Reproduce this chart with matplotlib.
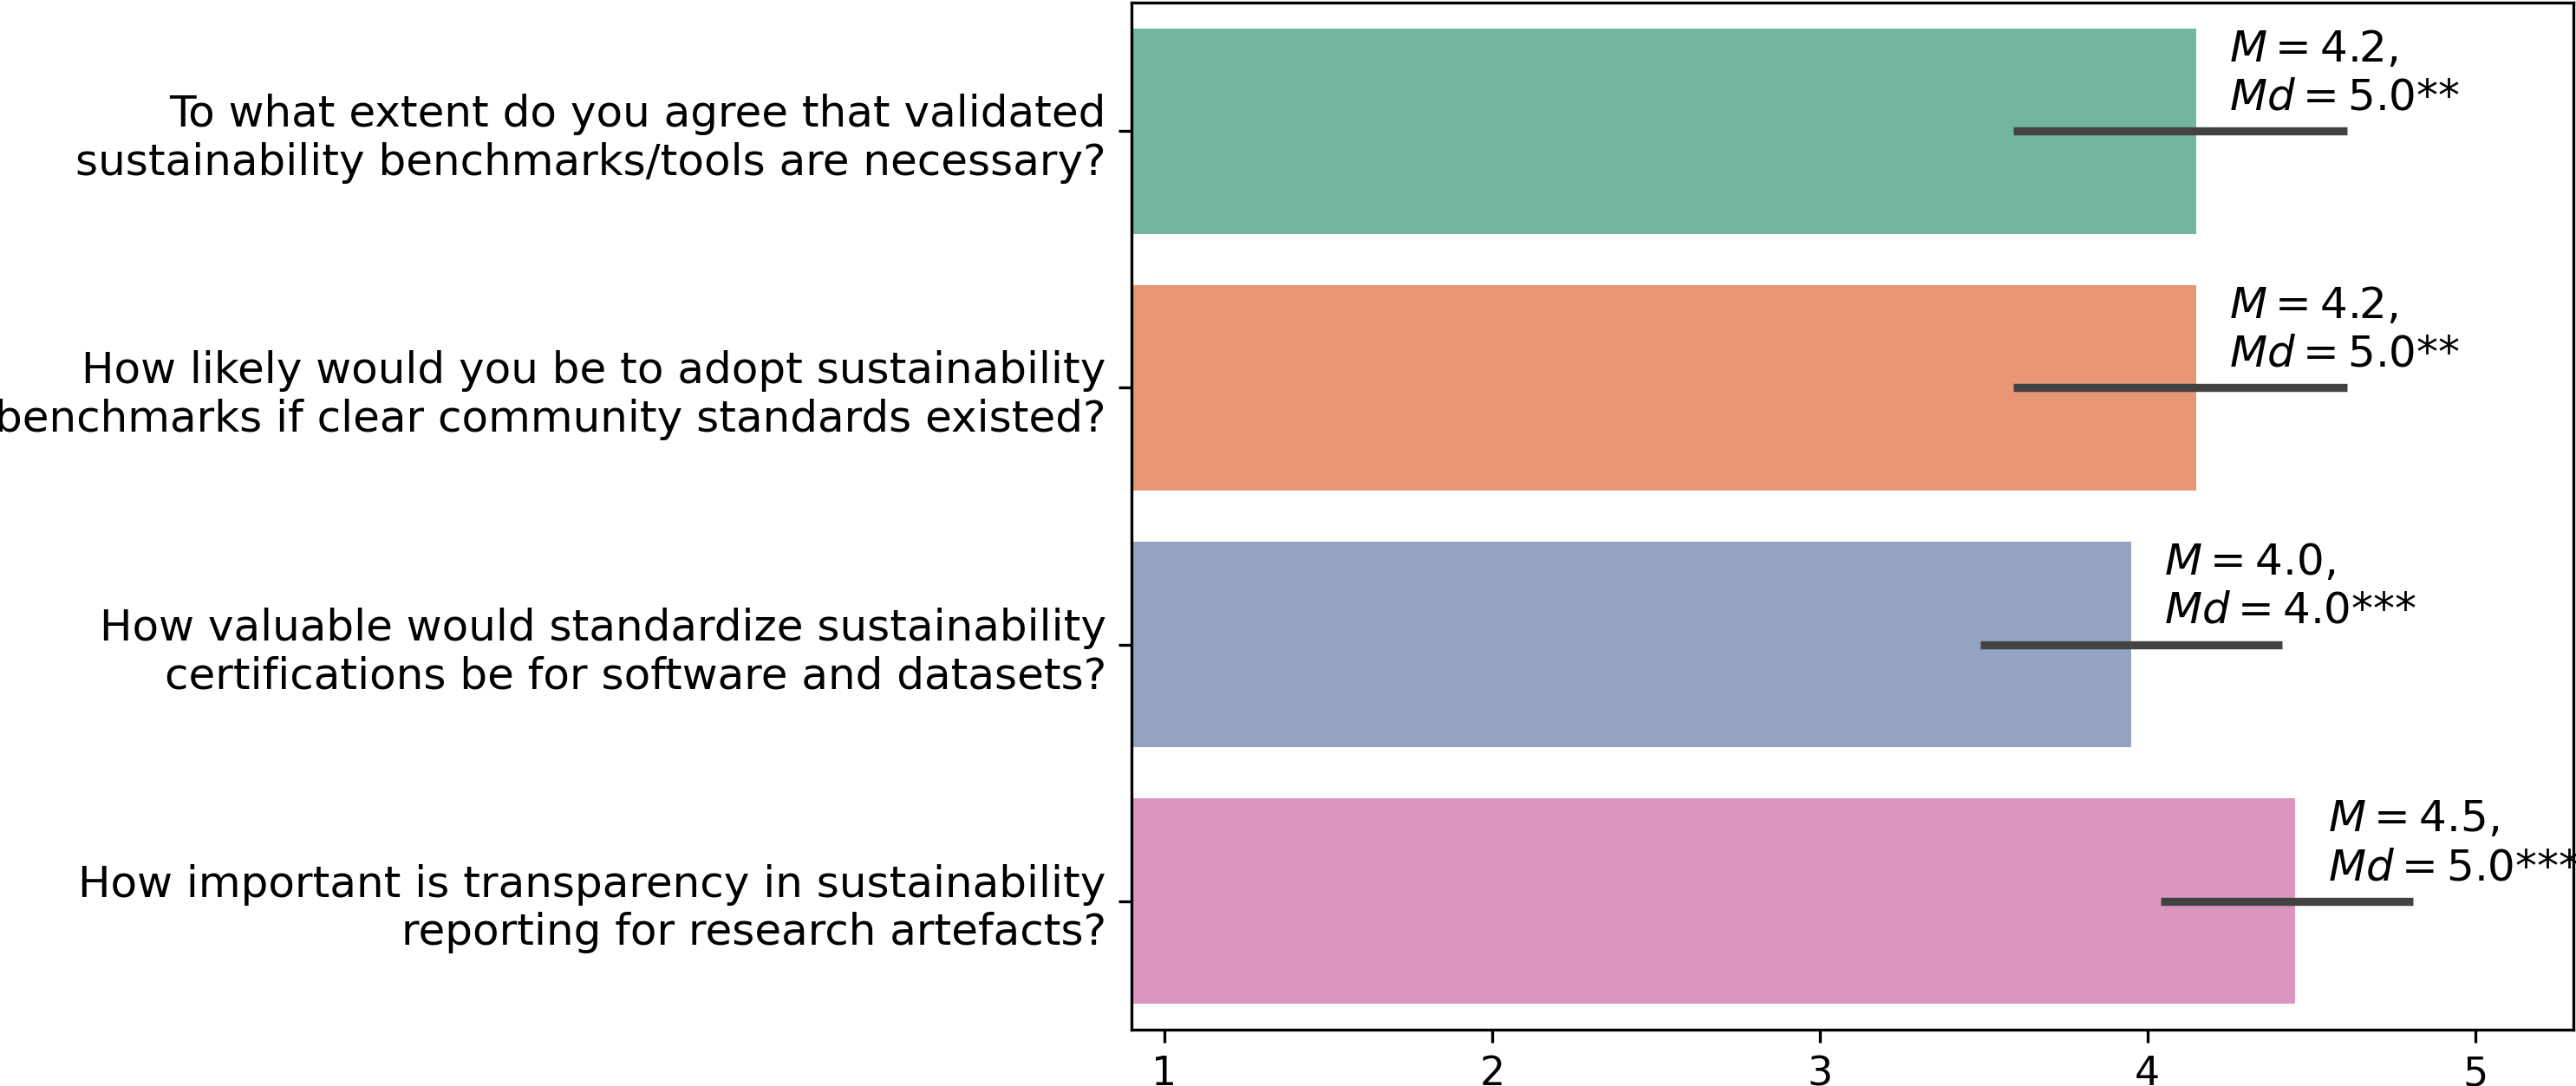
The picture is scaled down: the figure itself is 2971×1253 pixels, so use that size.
import matplotlib
matplotlib.use("Agg")
import matplotlib.pyplot as plt
import seaborn as sns

questions = [
    "To what extent do you agree that validated\nsustainability benchmarks/tools are necessary?",
    "How likely would you be to adopt sustainability\nbenchmarks if clear community standards existed?",
    "How valuable would standardize sustainability\ncertifications be for software and datasets?",
    "How important is transparency in sustainability\nreporting for research artefacts?",
]
means = [4.15, 4.15, 3.95, 4.45]
ci_low = [3.59, 3.59, 3.49, 4.04]
ci_high = [4.61, 4.61, 4.41, 4.81]
mean_txt = ["4.2", "4.2", "4.0", "4.5"]
median_txt = ["5.0", "5.0", "4.0", "5.0"]
stars = ["**", "**", "***", "***"]

colors = [sns.desaturate(c, 0.75) for c in sns.color_palette("Set2", 4)]

fig = plt.figure(figsize=(2971 / 300, 1253 / 300), dpi=300)
ax = fig.add_axes([1305 / 2971, 1 - 1188 / 1253, (2968 - 1305) / 2971, 1185 / 1253])

pos = list(range(len(questions)))
ax.barh(pos, means, height=0.8, color=colors, zorder=1)

# confidence intervals, seaborn style (no caps)
for i in pos:
    ax.plot([ci_low[i], ci_high[i]], [i, i], color=".26", lw=2.25, solid_capstyle="butt", zorder=3)
    ax.text(means[i] + 0.1, i - 0.05,
            r"$M = %s$," % mean_txt[i] + "\n" + r"$Md = %s$%s" % (median_txt[i], stars[i]),
            fontsize=12, ha="left", va="bottom", zorder=4)

ax.set_xlim(0.9, 5.3)
ax.set_ylim(3.5, -0.5)
ax.set_xticks([1, 2, 3, 4, 5])
ax.set_yticks(pos)
ax.set_yticklabels(questions, fontsize=12)
ax.tick_params(axis="x", labelsize=11)

fig.savefig("out.png", dpi=300)
